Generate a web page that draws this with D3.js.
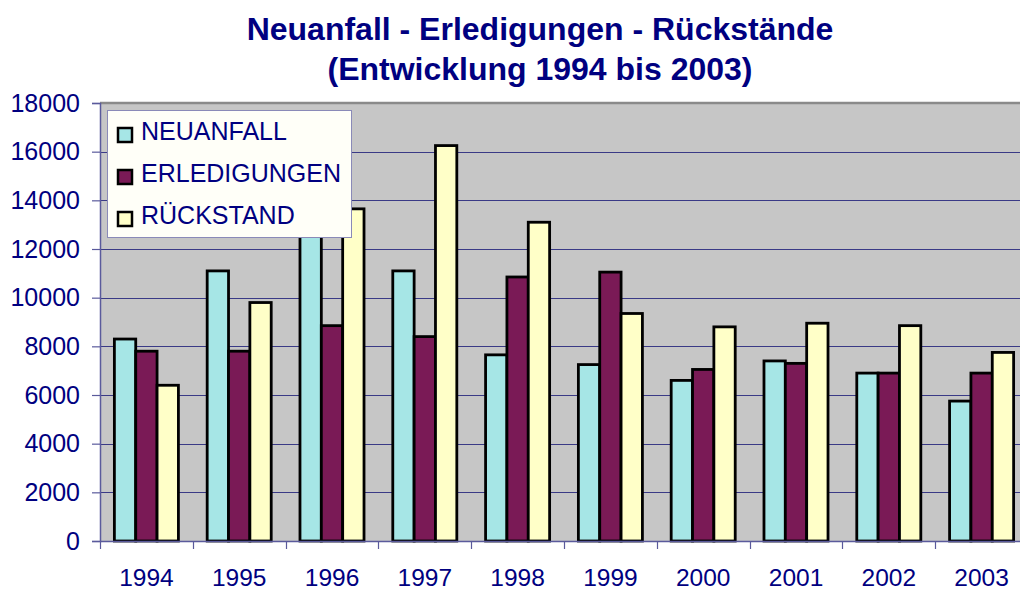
<!DOCTYPE html>
<html>
<head>
<meta charset="utf-8">
<script src="https://cdn.jsdelivr.net/npm/d3@7"></script>
<style>
  html, body { margin: 0; padding: 0; background: #ffffff; }
  svg { display: block; }
  text { font-family: "Liberation Sans", Arial, sans-serif; }
</style>
</head>
<body>
<script>
// ---- data ----
const years = ["1994","1995","1996","1997","1998","1999","2000","2001","2002","2003"];
const seriesNames = ["NEUANFALL","ERLEDIGUNGEN","RÜCKSTAND"];
const neuanfall    = [8300, 11100, 12700, 11100, 7650, 7250, 6600, 7400, 6900, 5750];
const erledigungen = [7800, 7800, 8850, 8400, 10850, 11050, 7050, 7300, 6900, 6900];
const rueckstand   = [6400, 9800, 13650, 16250, 13100, 9350, 8800, 8950, 8850, 7750];
const yTicks = [0, 2000, 4000, 6000, 8000, 10000, 12000, 14000, 16000, 18000];
const titleLines = ["Neuanfall - Erledigungen - Rückstände", "(Entwicklung 1994 bis 2003)"];

const seriesValues = [neuanfall, erledigungen, rueckstand];
const colors = ["#a6e6e6", "#7a1a56", "#ffffc8"];

const W = 1020, H = 590;
const plot = { left: 100, right: 1028, top: 103, bottom: 541 };
const navy = "#000080";

const svg = d3.select("body").append("svg").attr("width", W).attr("height", H);

const x0 = d3.scaleBand().domain(years).range([plot.left, plot.right])
  .paddingInner(0.31).paddingOuter(0.155);
const x1 = d3.scaleBand().domain(d3.range(3)).range([0, x0.bandwidth()]).padding(0);
const y = d3.scaleLinear().domain([0, 18000]).range([plot.bottom, plot.top]);
const xStep = d3.scaleBand().domain(years).range([plot.left, plot.right]);

// plot background
svg.append("rect").attr("x", plot.left).attr("y", plot.top)
  .attr("width", plot.right - plot.left).attr("height", plot.bottom - plot.top)
  .attr("fill", "#c6c6c6");
svg.append("line").attr("x1", plot.left).attr("x2", plot.right)
  .attr("y1", plot.top).attr("y2", plot.top)
  .attr("stroke", "#8a8a8a").attr("stroke-width", 2.5);

// gridlines
svg.append("g").selectAll("line").data(yTicks.filter(d => d > 0 && d < 18000)).join("line")
  .attr("x1", plot.left).attr("x2", plot.right)
  .attr("y1", d => Math.round(y(d)) + 0.5).attr("y2", d => Math.round(y(d)) + 0.5)
  .attr("stroke", "#3a3a86").attr("stroke-width", 1);

// bars
const groups = svg.append("g").selectAll("g").data(years).join("g")
  .attr("transform", d => `translate(${x0(d)},0)`);
groups.selectAll("rect").data((d, i) => seriesValues.map((s, k) => ({ k, v: s[i] }))).join("rect")
  .attr("x", d => x1(d.k))
  .attr("y", d => y(d.v))
  .attr("width", x1.bandwidth())
  .attr("height", d => y(0) - y(d.v))
  .attr("fill", d => colors[d.k])
  .attr("stroke", "#000").attr("stroke-width", 2.8);

// y axis
const yAxis = d3.axisLeft(y).tickValues(yTicks).tickSize(8).tickPadding(12).tickFormat(d3.format("d"));
const gy = svg.append("g").attr("transform", `translate(${plot.left},0)`).call(yAxis);
gy.select(".domain").attr("stroke", "#5a5a9c").attr("stroke-width", 1.5);
gy.selectAll(".tick line").attr("stroke", "#5a5a9c").attr("stroke-width", 1.2);
gy.selectAll(".tick text").attr("fill", navy).attr("font-size", 25)
  .attr("font-family", "'Liberation Sans', Arial, sans-serif");

// x axis
const xAxis = d3.axisBottom(xStep).tickSize(0).tickPadding(28);
const gx = svg.append("g").attr("transform", `translate(0,${plot.bottom})`).call(xAxis);
gx.select(".domain").attr("stroke", "#5a5a9c").attr("stroke-width", 1.5);
gx.selectAll(".tick text").attr("fill", navy).attr("font-size", 24.5)
  .attr("font-family", "'Liberation Sans', Arial, sans-serif");
// category separator ticks
svg.append("g").selectAll("line").data(years).join("line")
  .attr("x1", d => Math.round(xStep(d)) + 0.5).attr("x2", d => Math.round(xStep(d)) + 0.5)
  .attr("y1", plot.bottom).attr("y2", plot.bottom + 8)
  .attr("stroke", "#5a5a9c").attr("stroke-width", 1.2);

// legend
const lg = svg.append("g");
lg.append("rect").attr("x", 107.5).attr("y", 110.5).attr("width", 244).attr("height", 127)
  .attr("fill", "#fffff8").attr("stroke", "#8a8ab8").attr("stroke-width", 1);
seriesNames.forEach((name, i) => {
  const cy = 128 + i * 42;
  lg.append("rect").attr("x", 118).attr("y", cy).attr("width", 14).attr("height", 14)
    .attr("fill", colors[i]).attr("stroke", "#000").attr("stroke-width", 2.5);
  lg.append("text").attr("x", 141).attr("y", cy + 12)
    .attr("fill", navy).attr("font-size", 25).text(name);
});

// title
svg.append("g").selectAll("text").data(titleLines).join("text")
  .attr("x", 540).attr("y", (d, i) => 40 + i * 40)
  .attr("text-anchor", "middle").attr("fill", navy)
  .attr("font-size", 32).attr("font-weight", "bold").text(d => d);
</script>
</body>
</html>
